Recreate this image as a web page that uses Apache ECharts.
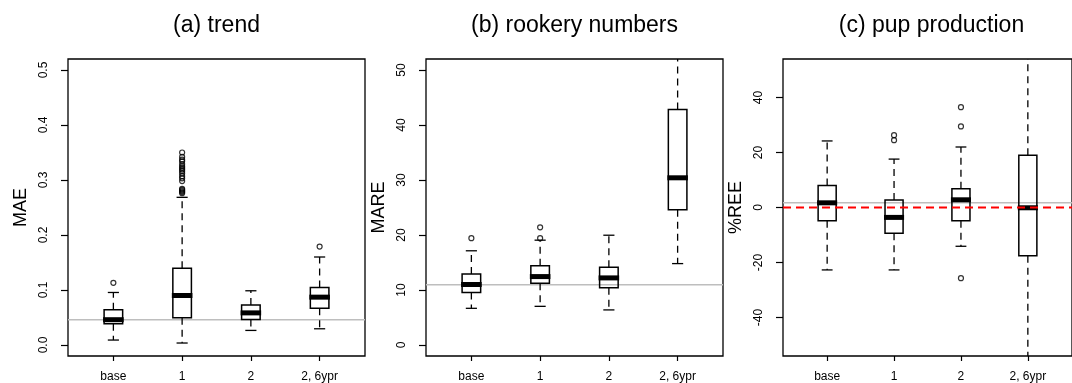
<!DOCTYPE html>
<html>
<head>
<meta charset="utf-8">
<script src="https://cdn.jsdelivr.net/npm/echarts@6/dist/echarts.min.js"></script>
<style>
html,body{margin:0;padding:0;background:#fff;}
#chart{width:1072px;height:383px;}
</style>
</head>
<body>
<div id="chart"></div>
<script>
// ---------------- data ----------------
const categories = ['base', '1', '2', '2, 6ypr'];
const panelTitles = ['(a) trend', '(b) rookery numbers', '(c) pup production'];
const axisNames = ['MAE', 'MARE', '%REE'];

// each box: [low whisker, Q1, median, Q3, high whisker]
const trendBoxes = [
  [0.009, 0.0385, 0.046, 0.064, 0.0955],
  [0.0036, 0.0494, 0.090, 0.1395, 0.2685],
  [0.0265, 0.0463, 0.0584, 0.0728, 0.0986],
  [0.0295, 0.0667, 0.087, 0.1045, 0.160]
];
// outliers: [category index, value]
const trendOutliers = [
  [0, 0.113],
  [1, 0.350], [1, 0.342], [1, 0.337], [1, 0.334], [1, 0.329], [1, 0.325],
  [1, 0.322], [1, 0.319], [1, 0.316], [1, 0.312], [1, 0.307], [1, 0.303],
  [1, 0.298], [1, 0.284], [1, 0.282], [1, 0.280], [1, 0.278], [1, 0.276],
  [3, 0.179]
];
const trendRef = 0.046;
const trendTicks = [0, 0.1, 0.2, 0.3, 0.4, 0.5];

const rookeryBoxes = [
  [6.67, 9.56, 11.0, 12.93, 17.13],
  [7.03, 11.25, 12.44, 14.42, 19.06],
  [6.38, 10.4, 12.2, 14.13, 19.96],
  [14.8, 24.6, 30.4, 42.8, 62.0]
];
const rookeryOutliers = [[0, 19.42], [1, 21.4], [1, 19.42]];
const rookeryRef = 10.95;
const rookeryTicks = [0, 10, 20, 30, 40, 50];

const pupBoxes = [
  [-22.7, -4.8, 1.7, 8.0, 24.2],
  [-22.7, -9.4, -3.6, 2.7, 17.6],
  [-14.1, -4.8, 2.8, 6.8, 22.0],
  [-70.0, -17.5, -0.1, 19.0, 70.0]
];
const pupOutliers = [[1, 26.3], [1, 24.5], [2, 36.5], [2, 29.5], [2, -25.7]];
const pupRef = 1.7;
const pupZero = 0;
const pupTicks = [-40, -20, 0, 20, 40];

// ---------------- layout / style ----------------
const FONT = 'Liberation Sans, Arial, sans-serif';
const gridLefts = [68, 426, 783];
const GRID_W = 297, GRID_TOP = 59, GRID_H = 298;
const yRanges = [[-0.02, 0.52], [-2, 52], [-54, 54]];
const BOX_W = 0.27;

const panels = [
  {boxes: trendBoxes, outliers: trendOutliers, ref: trendRef, ticks: trendTicks, fmt: v => v.toFixed(1)},
  {boxes: rookeryBoxes, outliers: rookeryOutliers, ref: rookeryRef, ticks: rookeryTicks, fmt: v => String(v)},
  {boxes: pupBoxes, outliers: pupOutliers, ref: pupRef, zero: pupZero, ticks: pupTicks, fmt: v => String(v)}
];

function boxRender(params, api) {
  const cs = params.coordSys;
  const top = cs.y, bot = cs.y + cs.height;
  const clampY = y => Math.max(top, Math.min(bot, y));
  const xv = api.value(0);
  const c = v => api.coord([xv, v]);
  const cx = c(api.value(1))[0];
  const half = api.size([BOX_W, 0])[0] / 2;
  const capHalf = half * 0.6;
  const yLow = c(api.value(1))[1], yQ1 = c(api.value(2))[1], yMed = c(api.value(3))[1],
        yQ3 = c(api.value(4))[1], yHigh = c(api.value(5))[1];
  const dash = {stroke: '#000', lineWidth: 1.3, lineDash: [7, 5], fill: null};
  const solid = {stroke: '#000', lineWidth: 1.3, fill: null};
  const children = [
    {type: 'line', shape: {x1: cx, y1: yQ3, x2: cx, y2: clampY(yHigh)}, style: dash},
    {type: 'line', shape: {x1: cx, y1: yQ1, x2: cx, y2: clampY(yLow)}, style: dash}
  ];
  if (yHigh >= top && yHigh <= bot)
    children.push({type: 'line', shape: {x1: cx - capHalf, y1: yHigh, x2: cx + capHalf, y2: yHigh}, style: solid});
  if (yLow >= top && yLow <= bot)
    children.push({type: 'line', shape: {x1: cx - capHalf, y1: yLow, x2: cx + capHalf, y2: yLow}, style: solid});
  children.push({type: 'rect', shape: {x: cx - half, y: yQ3, width: 2 * half, height: yQ1 - yQ3},
                 style: {stroke: '#000', lineWidth: 1.5, fill: null}});
  children.push({type: 'line', shape: {x1: cx - half - 1, y1: yMed, x2: cx + half + 1, y2: yMed},
                 style: {stroke: '#000', lineWidth: 5}});
  return {type: 'group', children: children};
}

function refRender(color, width, dashArr) {
  return function (params, api) {
    const cs = params.coordSys;
    const y = api.coord([1, api.value(0)])[1];
    return {type: 'line', shape: {x1: cs.x, y1: y, x2: cs.x + cs.width, y2: y},
            style: {stroke: color, lineWidth: width, lineDash: dashArr}};
  };
}

const grid = [], xAxis = [], yAxis = [], series = [], graphic = [];
panels.forEach((p, i) => {
  grid.push({left: gridLefts[i], top: GRID_TOP, width: GRID_W, height: GRID_H,
             show: true, borderColor: '#000', borderWidth: 1.3, backgroundColor: 'transparent'});
  xAxis.push({type: 'value', gridIndex: i, min: 0.34, max: 4.66, position: 'bottom',
              axisLine: {show: false, onZero: false}, splitLine: {show: false},
              axisTick: {show: true, inside: false, length: 5, customValues: [1, 2, 3, 4],
                         lineStyle: {color: '#000', width: 1.2}},
              axisLabel: {customValues: [1, 2, 3, 4], formatter: v => categories[Math.round(v) - 1],
                          fontFamily: FONT, fontSize: 12, color: '#000', margin: 15}});
  yAxis.push({type: 'value', gridIndex: i, min: yRanges[i][0], max: yRanges[i][1], position: 'left',
              axisLine: {show: false, onZero: false}, splitLine: {show: false},
              axisTick: {show: true, inside: false, length: 7, customValues: p.ticks,
                         lineStyle: {color: '#000', width: 1.2}},
              axisLabel: {customValues: p.ticks, formatter: p.fmt, rotate: 90,
                          fontFamily: FONT, fontSize: 12, color: '#000', margin: 18},
              name: axisNames[i], nameLocation: 'middle', nameGap: 38,
              nameTextStyle: {fontFamily: FONT, fontSize: 18, color: '#000'}});
  series.push({type: 'custom', xAxisIndex: i, yAxisIndex: i, z: 1, silent: true,
               renderItem: refRender('#bebebe', 1.5, null), data: [[p.ref]]});
  series.push({type: 'custom', xAxisIndex: i, yAxisIndex: i, z: 2, silent: true,
               renderItem: boxRender, encode: {x: 0, y: [1, 2, 3, 4, 5]},
               data: p.boxes.map((b, k) => [k + 1].concat(b))});
  series.push({type: 'scatter', xAxisIndex: i, yAxisIndex: i, z: 3, silent: true,
               symbol: 'circle', symbolSize: 5,
               itemStyle: {color: 'transparent', borderColor: '#000', borderWidth: 1.2},
               data: p.outliers.map(o => [o[0] + 1, o[1]])});
  if (p.zero !== undefined) {
    series.push({type: 'custom', xAxisIndex: i, yAxisIndex: i, z: 4, silent: true,
                 renderItem: refRender('#ff0000', 2, [8, 5]), data: [[p.zero]]});
  }
  graphic.push({type: 'text', x: gridLefts[i] + GRID_W / 2, y: 26,
                style: {text: panelTitles[i], font: '23px ' + FONT, fill: '#000',
                        textAlign: 'center', textVerticalAlign: 'middle'}});
});

const chart = echarts.init(document.getElementById('chart'), null, {renderer: 'canvas'});
chart.setOption({
  animation: false,
  backgroundColor: '#fff',
  grid: grid, xAxis: xAxis, yAxis: yAxis, series: series, graphic: graphic
});
</script>
</body>
</html>
